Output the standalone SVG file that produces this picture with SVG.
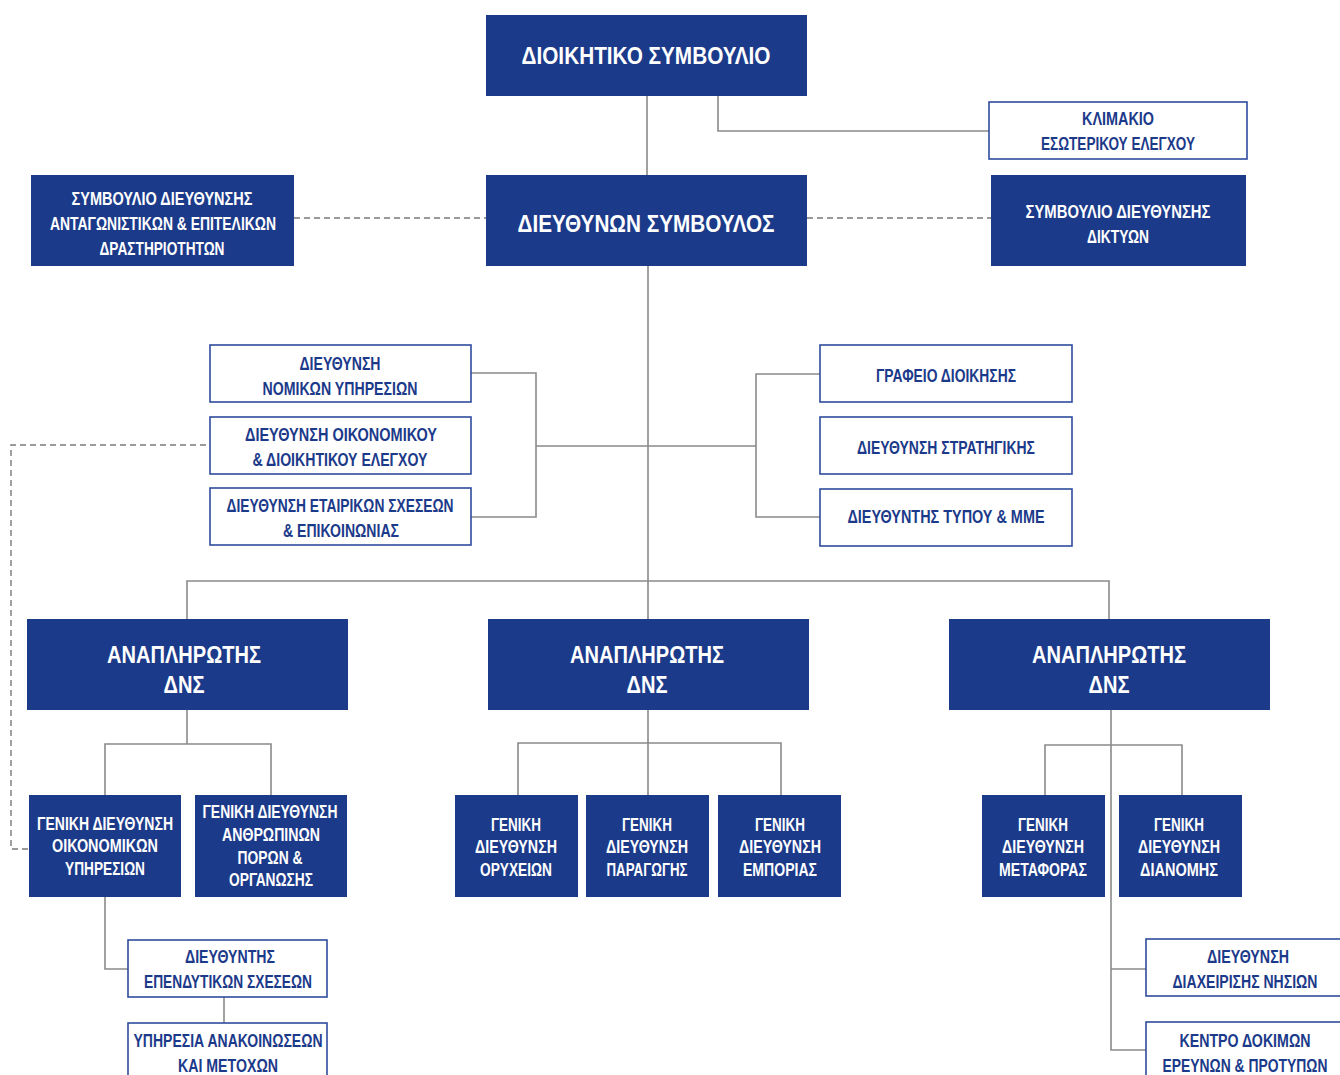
<svg xmlns="http://www.w3.org/2000/svg" width="1340" height="1075" viewBox="0 0 1340 1075">
<style>
.f{fill:#1c3a8a;}
.o{fill:#fff;stroke:#2f4d9c;stroke-width:1.6;}
text{font-family:"Liberation Sans Narrow","Liberation Sans",Arial,sans-serif;font-weight:bold;text-anchor:middle;font-size:18px;}
.w{fill:#fff;}
.b{fill:#1c3a8a;}
.big{font-size:24px;}
.c{fill:none;stroke:#8a8a8a;stroke-width:1.6;}
.d{fill:none;stroke:#7a7a7a;stroke-width:1.4;stroke-dasharray:6 4;}
</style>
<rect width="1340" height="1075" fill="#fff"/>
<g id="connectors">
<path class="c" d="M647 96V175M718 96V131H989"/>
<path class="d" d="M294 218H486M807 218H991"/>
<path class="c" d="M648 266V581"/>
<path class="c" d="M471 373H536V517H471M536 446H756M820 374H756V517H820"/>
<path class="d" d="M206 445H11V849H29"/>
<path class="c" d="M187 619V581H1109V619M648 581V619"/>
<path class="c" d="M187 710V744M105 795V744H271V795"/>
<path class="c" d="M105 897V969H128M224 997V1023"/>
<path class="c" d="M648 710V795M518 795V743H781V795"/>
<path class="c" d="M1111 710V1050H1146M1111 969H1146M1045 795V745H1182V795"/>
</g>
<g id="n-board"><rect class="f" x="486" y="15" width="321" height="81"/><text class="w big" x="646" y="64" textLength="249" lengthAdjust="spacingAndGlyphs">ΔΙΟΙΚΗΤΙΚΟ ΣΥΜΒΟΥΛΙΟ</text></g>
<g id="n-ceo"><rect class="f" x="486" y="175" width="321" height="91"/><text class="w big" x="646" y="232" textLength="257" lengthAdjust="spacingAndGlyphs">ΔΙΕΥΘΥΝΩΝ ΣΥΜΒΟΥΛΟΣ</text></g>
<g id="n-audit"><rect class="o" x="989" y="102" width="258" height="57"/><text class="b" x="1118" y="124.500" textLength="72" lengthAdjust="spacingAndGlyphs">ΚΛΙΜΑΚΙΟ</text><text class="b" x="1118" y="149.500" textLength="154" lengthAdjust="spacingAndGlyphs">ΕΣΩΤΕΡΙΚΟΥ ΕΛΕΓΧΟΥ</text></g>
<g id="n-council1"><rect class="f" x="31" y="175" width="263" height="91"/><text class="w" x="162" y="204.500" textLength="181" lengthAdjust="spacingAndGlyphs">ΣΥΜΒΟΥΛΙΟ ΔΙΕΥΘΥΝΣΗΣ</text><text class="w" x="163" y="229.500" textLength="226" lengthAdjust="spacingAndGlyphs">ΑΝΤΑΓΩΝΙΣΤΙΚΩΝ &amp; ΕΠΙΤΕΛΙΚΩΝ</text><text class="w" x="162" y="254.500" textLength="125" lengthAdjust="spacingAndGlyphs">ΔΡΑΣΤΗΡΙΟΤΗΤΩΝ</text></g>
<g id="n-council2"><rect class="f" x="991" y="175" width="255" height="91"/><text class="w" x="1118" y="217.500" textLength="185" lengthAdjust="spacingAndGlyphs">ΣΥΜΒΟΥΛΙΟ  ΔΙΕΥΘΥΝΣΗΣ</text><text class="w" x="1118" y="242.500" textLength="62" lengthAdjust="spacingAndGlyphs">ΔΙΚΤΥΩΝ</text></g>
<g id="n-legal"><rect class="o" x="210" y="345" width="261" height="57"/><text class="b" x="340" y="369.500" textLength="81" lengthAdjust="spacingAndGlyphs">ΔΙΕΥΘΥΝΣΗ</text><text class="b" x="340" y="394.500" textLength="155" lengthAdjust="spacingAndGlyphs">ΝΟΜΙΚΩΝ ΥΠΗΡΕΣΙΩΝ</text></g>
<g id="n-fincontrol"><rect class="o" x="210" y="417" width="261" height="57"/><text class="b" x="341" y="440.500" textLength="192" lengthAdjust="spacingAndGlyphs">ΔΙΕΥΘΥΝΣΗ ΟΙΚΟΝΟΜΙΚΟΥ</text><text class="b" x="340" y="465.500" textLength="175" lengthAdjust="spacingAndGlyphs">&amp; ΔΙΟΙΚΗΤΙΚΟΥ ΕΛΕΓΧΟΥ</text></g>
<g id="n-corp"><rect class="o" x="210" y="488" width="261" height="57"/><text class="b" x="340" y="511.500" textLength="227" lengthAdjust="spacingAndGlyphs">ΔΙΕΥΘΥΝΣΗ ΕΤΑΙΡΙΚΩΝ ΣΧΕΣΕΩΝ</text><text class="b" x="341" y="536.500" textLength="116" lengthAdjust="spacingAndGlyphs">&amp; ΕΠΙΚΟΙΝΩΝΙΑΣ</text></g>
<g id="n-office"><rect class="o" x="820" y="345" width="252" height="57"/><text class="b" x="946" y="381.500" textLength="140" lengthAdjust="spacingAndGlyphs">ΓΡΑΦΕΙΟ ΔΙΟΙΚΗΣΗΣ</text></g>
<g id="n-strategy"><rect class="o" x="820" y="417" width="252" height="57"/><text class="b" x="946" y="453.500" textLength="178" lengthAdjust="spacingAndGlyphs">ΔΙΕΥΘΥΝΣΗ ΣΤΡΑΤΗΓΙΚΗΣ</text></g>
<g id="n-press"><rect class="o" x="820" y="489" width="252" height="57"/><text class="b" x="946" y="522.500" textLength="197" lengthAdjust="spacingAndGlyphs">ΔΙΕΥΘΥΝΤΗΣ ΤΥΠΟΥ &amp; ΜΜΕ</text></g>
<g id="n-dep1"><rect class="f" x="27" y="619" width="321" height="91"/><text class="w big" x="184" y="663" textLength="154" lengthAdjust="spacingAndGlyphs">ΑΝΑΠΛΗΡΩΤΗΣ</text><text class="w big" x="184" y="693" textLength="41" lengthAdjust="spacingAndGlyphs">ΔΝΣ</text></g>
<g id="n-dep2"><rect class="f" x="488" y="619" width="321" height="91"/><text class="w big" x="647" y="663" textLength="154" lengthAdjust="spacingAndGlyphs">ΑΝΑΠΛΗΡΩΤΗΣ</text><text class="w big" x="647" y="693" textLength="41" lengthAdjust="spacingAndGlyphs">ΔΝΣ</text></g>
<g id="n-dep3"><rect class="f" x="949" y="619" width="321" height="91"/><text class="w big" x="1109" y="663" textLength="154" lengthAdjust="spacingAndGlyphs">ΑΝΑΠΛΗΡΩΤΗΣ</text><text class="w big" x="1109" y="693" textLength="41" lengthAdjust="spacingAndGlyphs">ΔΝΣ</text></g>
<g id="n-gd-fin"><rect class="f" x="29" y="795" width="152" height="102"/><text class="w" x="105" y="829.500" textLength="136" lengthAdjust="spacingAndGlyphs">ΓΕΝΙΚΗ ΔΙΕΥΘΥΝΣΗ</text><text class="w" x="105" y="851.500" textLength="106" lengthAdjust="spacingAndGlyphs">ΟΙΚΟΝΟΜΙΚΩΝ</text><text class="w" x="105" y="874.500" textLength="80" lengthAdjust="spacingAndGlyphs">ΥΠΗΡΕΣΙΩΝ</text></g>
<g id="n-gd-hr"><rect class="f" x="195" y="795" width="152" height="102"/><text class="w" x="270" y="817.500" textLength="135" lengthAdjust="spacingAndGlyphs">ΓΕΝΙΚΗ ΔΙΕΥΘΥΝΣΗ</text><text class="w" x="271" y="840.500" textLength="98" lengthAdjust="spacingAndGlyphs">ΑΝΘΡΩΠΙΝΩΝ</text><text class="w" x="270" y="863.500" textLength="65" lengthAdjust="spacingAndGlyphs">ΠΟΡΩΝ &amp;</text><text class="w" x="271" y="885.500" textLength="84" lengthAdjust="spacingAndGlyphs">ΟΡΓΑΝΩΣΗΣ</text></g>
<g id="n-ir"><rect class="o" x="128" y="940" width="199" height="57"/><text class="b" x="230" y="962.500" textLength="90" lengthAdjust="spacingAndGlyphs">ΔΙΕΥΘΥΝΤΗΣ</text><text class="b" x="228" y="987.500" textLength="168" lengthAdjust="spacingAndGlyphs">ΕΠΕΝΔΥΤΙΚΩΝ ΣΧΕΣΕΩΝ</text></g>
<g id="n-ann"><rect class="o" x="128" y="1023" width="199" height="60"/><text class="b" x="228" y="1046.500" textLength="189" lengthAdjust="spacingAndGlyphs">ΥΠΗΡΕΣΙΑ ΑΝΑΚΟΙΝΩΣΕΩΝ</text><text class="b" x="228" y="1071.500" textLength="100" lengthAdjust="spacingAndGlyphs">ΚΑΙ ΜΕΤΟΧΩΝ</text></g>
<g id="n-gd-mines"><rect class="f" x="455" y="795" width="123" height="102"/><text class="w" x="516" y="830.500" textLength="50" lengthAdjust="spacingAndGlyphs">ΓΕΝΙΚΗ</text><text class="w" x="516" y="852.500" textLength="82" lengthAdjust="spacingAndGlyphs">ΔΙΕΥΘΥΝΣΗ</text><text class="w" x="516" y="875.500" textLength="72" lengthAdjust="spacingAndGlyphs">ΟΡΥΧΕΙΩΝ</text></g>
<g id="n-gd-prod"><rect class="f" x="586" y="795" width="123" height="102"/><text class="w" x="647" y="830.500" textLength="50" lengthAdjust="spacingAndGlyphs">ΓΕΝΙΚΗ</text><text class="w" x="647" y="852.500" textLength="82" lengthAdjust="spacingAndGlyphs">ΔΙΕΥΘΥΝΣΗ</text><text class="w" x="647" y="875.500" textLength="81" lengthAdjust="spacingAndGlyphs">ΠΑΡΑΓΩΓΗΣ</text></g>
<g id="n-gd-trade"><rect class="f" x="718" y="795" width="123" height="102"/><text class="w" x="780" y="830.500" textLength="50" lengthAdjust="spacingAndGlyphs">ΓΕΝΙΚΗ</text><text class="w" x="780" y="852.500" textLength="82" lengthAdjust="spacingAndGlyphs">ΔΙΕΥΘΥΝΣΗ</text><text class="w" x="780" y="875.500" textLength="74" lengthAdjust="spacingAndGlyphs">ΕΜΠΟΡΙΑΣ</text></g>
<g id="n-gd-trans"><rect class="f" x="982" y="795" width="123" height="102"/><text class="w" x="1043" y="830.500" textLength="50" lengthAdjust="spacingAndGlyphs">ΓΕΝΙΚΗ</text><text class="w" x="1043" y="852.500" textLength="82" lengthAdjust="spacingAndGlyphs">ΔΙΕΥΘΥΝΣΗ</text><text class="w" x="1043" y="875.500" textLength="88" lengthAdjust="spacingAndGlyphs">ΜΕΤΑΦΟΡΑΣ</text></g>
<g id="n-gd-dist"><rect class="f" x="1119" y="795" width="123" height="102"/><text class="w" x="1179" y="830.500" textLength="50" lengthAdjust="spacingAndGlyphs">ΓΕΝΙΚΗ</text><text class="w" x="1179" y="852.500" textLength="82" lengthAdjust="spacingAndGlyphs">ΔΙΕΥΘΥΝΣΗ</text><text class="w" x="1179" y="875.500" textLength="78" lengthAdjust="spacingAndGlyphs">ΔΙΑΝΟΜΗΣ</text></g>
<g id="n-islands"><rect class="o" x="1146" y="939" width="195" height="57"/><text class="b" x="1248" y="962.500" textLength="82" lengthAdjust="spacingAndGlyphs">ΔΙΕΥΘΥΝΣΗ</text><text class="b" x="1245" y="987.500" textLength="145" lengthAdjust="spacingAndGlyphs">ΔΙΑΧΕΙΡΙΣΗΣ ΝΗΣΙΩΝ</text></g>
<g id="n-testing"><rect class="o" x="1146" y="1022" width="195" height="60"/><text class="b" x="1245" y="1046.500" textLength="131" lengthAdjust="spacingAndGlyphs">ΚΕΝΤΡΟ ΔΟΚΙΜΩΝ</text><text class="b" x="1245" y="1071.500" textLength="165" lengthAdjust="spacingAndGlyphs">ΕΡΕΥΝΩΝ &amp; ΠΡΟΤΥΠΩΝ</text></g>
</svg>
